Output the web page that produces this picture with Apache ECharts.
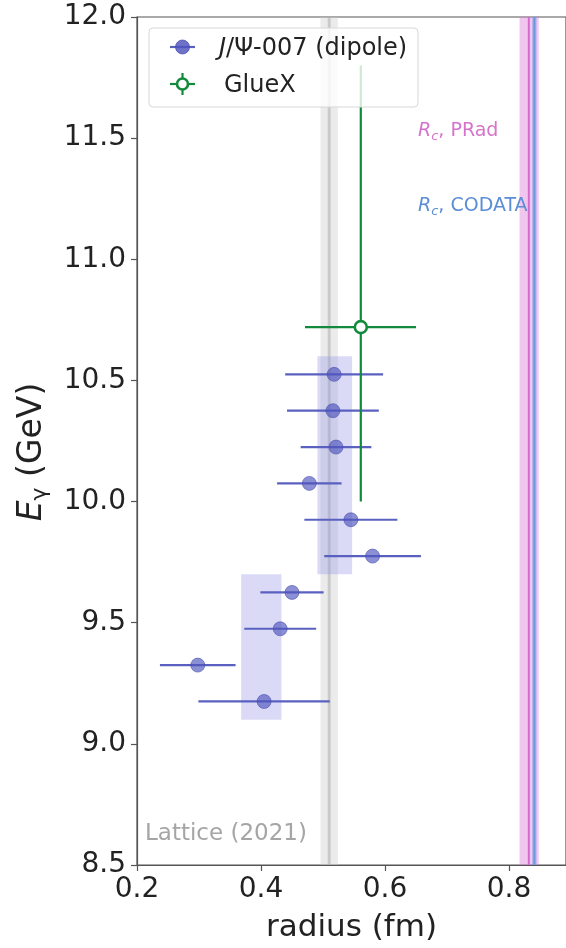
<!DOCTYPE html>
<html><head><meta charset="utf-8">
<script src="https://cdn.jsdelivr.net/npm/echarts@6/dist/echarts.min.js"></script>
<style>html,body{margin:0;padding:0;background:#fff}#c{width:566px;height:948px}</style>
</head><body><div id="c"></div><script>
// ---- data ----
const jpsiRadius    = [0.518, 0.516, 0.521, 0.478, 0.545, 0.580, 0.450, 0.431, 0.298, 0.405];
const jpsiRadiusErr = [0.079, 0.074, 0.057, 0.052, 0.075, 0.078, 0.051, 0.058, 0.061, 0.106];
const jpsiEnergy    = [10.525, 10.375, 10.225, 10.075, 9.925, 9.775, 9.625, 9.475, 9.325, 9.175];

const gluexRadius   = [0.561];
const gluexRadiusLo = [0.471];
const gluexRadiusHi = [0.650];
const gluexEnergy   = [10.72];
const gluexEnergyLo = [10.0];
const gluexEnergyHi = [11.80];

const boxRadiusLo = [0.368, 0.491];
const boxRadiusHi = [0.433, 0.547];
const boxEnergyLo = [9.1, 9.7];
const boxEnergyHi = [9.7, 10.6];

const latticeBand = [0.496, 0.524]; const latticeCenter = [0.510];
const pradBand    = [0.817, 0.848]; const pradCenter    = [0.832];
const codataBand  = [0.8375, 0.8445]; const codataCenter = [0.841];

const xTicks = [0.2, 0.4, 0.6, 0.8];
const yTicks = [8.5, 9.0, 9.5, 10.0, 10.5, 11.0, 11.5, 12.0];

// ---- chart ----
const FONT = 'DejaVu Sans';
const yMin = yTicks[0], yMax = yTicks[yTicks.length - 1];
const BLUE = '#5a60bf', GREEN = '#128a3c', AXC = '#555';

function bandItem(fill) {
  return function (params, api) {
    const a = api.coord([api.value(0), yMax]);
    const b = api.coord([api.value(1), yMin]);
    return { type: 'rect', shape: { x: a[0], y: a[1], width: b[0] - a[0], height: b[1] - a[1] }, style: { fill: fill } };
  };
}
function vlineItem(stroke, w) {
  return function (params, api) {
    const a = api.coord([api.value(0), yMax]);
    const b = api.coord([api.value(0), yMin]);
    return { type: 'line', shape: { x1: a[0], y1: a[1], x2: b[0], y2: b[1] }, style: { stroke: stroke, lineWidth: w } };
  };
}

const chart = echarts.init(document.getElementById('c'), null, { renderer: 'canvas' });
chart.setOption({
  animation: false,
  textStyle: { fontFamily: FONT },
  grid: { left: 137, right: -3, top: 17, bottom: 81, show: true, borderColor: AXC, borderWidth: 1.2, backgroundColor: 'transparent' },
  xAxis: {
    type: 'value', min: xTicks[0], max: 0.892, interval: 0.2,
    name: 'radius (fm)', nameLocation: 'middle', nameGap: 47,
    nameTextStyle: { fontSize: 31, color: '#222', fontFamily: FONT },
    axisLine: { show: true, lineStyle: { color: AXC, width: 1.2 } },
    axisTick: { show: true, inside: false, length: 6, lineStyle: { color: AXC, width: 1.2 } },
    axisLabel: { fontSize: 28, color: '#222', margin: 11, showMaxLabel: false, fontFamily: FONT,
      formatter: v => xTicks.some(t => Math.abs(t - v) < 1e-6) ? v.toFixed(1) : '' },
    splitLine: { show: false }
  },
  yAxis: {
    type: 'value', min: yMin, max: yMax, interval: 0.5,
    name: '{i|E}{s|γ}{n| (GeV)}', nameLocation: 'middle', nameGap: 86, nameRotate: 90,
    nameTextStyle: { color: '#222', fontFamily: FONT, padding: [0, 22, 0, 0],
      rich: { i: { fontSize: 33, fontStyle: 'italic', fontFamily: FONT, color: '#222', lineHeight: 38 },
              s: { fontSize: 22, fontFamily: FONT, color: '#222', verticalAlign: 'bottom', lineHeight: 30 },
              n: { fontSize: 33, fontFamily: FONT, color: '#222', lineHeight: 38 } } },
    axisLine: { show: true, lineStyle: { color: AXC, width: 1.2 } },
    axisTick: { show: true, inside: false, length: 6, lineStyle: { color: AXC, width: 1.2 } },
    axisLabel: { fontSize: 28, color: '#222', margin: 11, fontFamily: FONT, formatter: v => v.toFixed(1) },
    splitLine: { show: false }
  },
  series: [
    { type: 'custom', name: 'lattice band', clip: true, z: 1, renderItem: bandItem('rgba(200,202,200,0.38)'), data: [latticeBand] },
    { type: 'custom', name: 'lattice line', clip: true, z: 1, renderItem: vlineItem('rgba(175,175,175,0.55)', 3), data: [latticeCenter] },
    { type: 'custom', name: 'prad band', clip: true, z: 1, renderItem: bandItem('rgba(222,120,215,0.42)'), data: [pradBand] },
    { type: 'custom', name: 'prad line', clip: true, z: 1, renderItem: vlineItem('#d46ccf', 2), data: [pradCenter] },
    { type: 'custom', name: 'codata band', clip: true, z: 1, renderItem: bandItem('rgba(120,160,230,0.55)'), data: [codataBand] },
    { type: 'custom', name: 'codata line', clip: true, z: 1, renderItem: vlineItem('#6a98e0', 2), data: [codataCenter] },
    { type: 'custom', name: 'boxes', clip: true, z: 2,
      renderItem: function (params, api) {
        const a = api.coord([api.value(0), api.value(3)]);
        const b = api.coord([api.value(1), api.value(2)]);
        return { type: 'rect', shape: { x: a[0], y: a[1], width: b[0] - a[0], height: b[1] - a[1] }, style: { fill: 'rgba(150,150,228,0.35)' } };
      },
      data: boxRadiusLo.map((v, i) => [v, boxRadiusHi[i], boxEnergyLo[i], boxEnergyHi[i]]) },
    { type: 'custom', name: 'J/Ψ-007 errors', clip: true, z: 3,
      renderItem: function (params, api) {
        const y = api.value(1);
        const a = api.coord([api.value(2), y]), b = api.coord([api.value(3), y]);
        return { type: 'line', shape: { x1: a[0], y1: a[1], x2: b[0], y2: b[1] }, style: { stroke: BLUE, lineWidth: 2.2 } };
      },
      encode: { x: 0, y: 1 },
      data: jpsiRadius.map((r, i) => [r, jpsiEnergy[i], r - jpsiRadiusErr[i], r + jpsiRadiusErr[i]]) },
    { type: 'scatter', name: 'J/Ψ-007 (dipole)', z: 4, symbol: 'circle', symbolSize: 14,
      itemStyle: { color: 'rgba(78,84,188,0.82)', borderColor: 'rgba(70,75,175,0.9)', borderWidth: 0.8 },
      data: jpsiRadius.map((r, i) => [r, jpsiEnergy[i]]) },
    { type: 'custom', name: 'GlueX errors', clip: true, z: 5,
      renderItem: function (params, api) {
        const x = api.value(0), y = api.value(1);
        const a = api.coord([api.value(2), y]), b = api.coord([api.value(3), y]);
        const c = api.coord([x, api.value(4)]), d = api.coord([x, api.value(5)]);
        return { type: 'group', children: [
          { type: 'line', shape: { x1: a[0], y1: a[1], x2: b[0], y2: b[1] }, style: { stroke: GREEN, lineWidth: 2.2 } },
          { type: 'line', shape: { x1: c[0], y1: c[1], x2: d[0], y2: d[1] }, style: { stroke: GREEN, lineWidth: 2.2 } }
        ] };
      },
      encode: { x: 0, y: 1 },
      data: gluexRadius.map((r, i) => [r, gluexEnergy[i], gluexRadiusLo[i], gluexRadiusHi[i], gluexEnergyLo[i], gluexEnergyHi[i]]) },
    { type: 'scatter', name: 'GlueX', z: 6, symbol: 'circle', symbolSize: 12,
      itemStyle: { color: '#ffffff', borderColor: GREEN, borderWidth: 2.6, opacity: 1 },
      data: gluexRadius.map((r, i) => [r, gluexEnergy[i]]) }
  ],
  graphic: [
    // legend
    { type: 'rect', z: 100, shape: { x: 149, y: 28, width: 269, height: 79, r: 4 },
      style: { fill: 'rgba(255,255,255,0.8)', stroke: '#d8d8d8', lineWidth: 1 } },
    { type: 'line', z: 101, shape: { x1: 170, y1: 47, x2: 195, y2: 47 }, style: { stroke: BLUE, lineWidth: 2.2 } },
    { type: 'circle', z: 102, shape: { cx: 182.5, cy: 47, r: 7 }, style: { fill: 'rgba(78,84,188,0.82)', stroke: 'rgba(70,75,175,0.9)', lineWidth: 0.8 } },
    { type: 'text', z: 101, left: 219, top: 37,
      style: { text: '{i|J}{n|/Ψ-007 (dipole)}', fill: '#222',
        rich: { i: { fontSize: 24, fontStyle: 'italic', fontFamily: FONT, fill: '#222' }, n: { fontSize: 24, fontFamily: FONT, fill: '#222' } } } },
    { type: 'line', z: 101, shape: { x1: 170, y1: 84, x2: 195, y2: 84 }, style: { stroke: GREEN, lineWidth: 2.2 } },
    { type: 'line', z: 101, shape: { x1: 182.5, y1: 73, x2: 182.5, y2: 95 }, style: { stroke: GREEN, lineWidth: 2.2 } },
    { type: 'circle', z: 102, shape: { cx: 182.5, cy: 84, r: 5.5 }, style: { fill: '#fff', stroke: GREEN, lineWidth: 2.6 } },
    { type: 'text', z: 101, left: 224, top: 74,
      style: { text: 'GlueX', fill: '#222', fontSize: 24, fontFamily: FONT } },
    // annotations
    { type: 'text', z: 50, left: 418, top: 122,
      style: { text: '{i|R}{s|c}{n|, PRad}', fill: '#d574cc',
        rich: { i: { fontSize: 19, fontStyle: 'italic', fontFamily: FONT, fill: '#d574cc', lineHeight: 24 },
                s: { fontSize: 13, fontStyle: 'italic', fontFamily: FONT, fill: '#d574cc', verticalAlign: 'bottom', lineHeight: 18 },
                n: { fontSize: 19, fontFamily: FONT, fill: '#d574cc', lineHeight: 24 } } } },
    { type: 'text', z: 50, left: 418, top: 197,
      style: { text: '{i|R}{s|c}{n|, CODATA}', fill: '#5b8ed6',
        rich: { i: { fontSize: 19, fontStyle: 'italic', fontFamily: FONT, fill: '#5b8ed6', lineHeight: 24 },
                s: { fontSize: 13, fontStyle: 'italic', fontFamily: FONT, fill: '#5b8ed6', verticalAlign: 'bottom', lineHeight: 18 },
                n: { fontSize: 19, fontFamily: FONT, fill: '#5b8ed6', lineHeight: 24 } } } },
    { type: 'text', z: 50, left: 145, top: 823,
      style: { text: 'Lattice (2021)', fill: '#a5a5a5', fontSize: 23, fontFamily: FONT } }
  ]
});
</script></body></html>
